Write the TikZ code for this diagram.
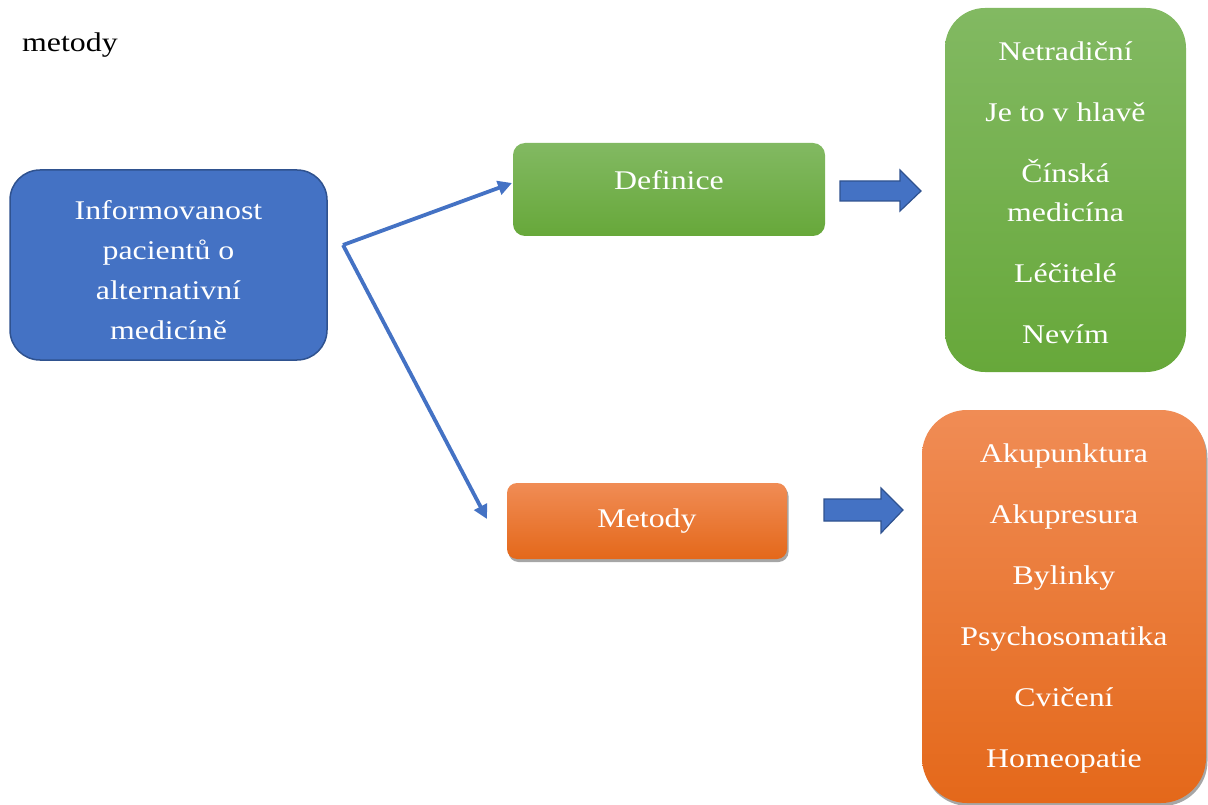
\documentclass[tikz,border=0pt]{standalone}
\usepackage{fontspec}
\setmainfont{Liberation Serif}[FakeStretch=1.18]
\usetikzlibrary{arrows.meta,shadows}
\definecolor{cblue}{HTML}{4472C4}
\definecolor{cbluedark}{HTML}{2F528F}
\definecolor{gtop}{HTML}{82B962}
\definecolor{gbot}{HTML}{67A83A}
\definecolor{otop}{HTML}{F08C55}
\definecolor{obot}{HTML}{E4681A}
\tikzset{
  box/.style={rounded corners=#1, inner sep=0pt},
  greenbox/.style={box=#1, top color=gtop, bottom color=gbot, draw=none},
  orangebox/.style={box=#1, top color=otop, bottom color=obot, draw=none,
    drop shadow={shadow xshift=1.5pt, shadow yshift=-3pt, opacity=0.35, fill=black}},
  bluebox/.style={box=#1, fill=cblue, draw=cbluedark, line width=1.5pt},
  boxtext/.style={inner sep=0pt, align=center, text=white,
    font=\fontsize{27}{39}\selectfont},
  conn/.style={draw=cblue, line width=3.8pt, -{Triangle[length=14pt,width=14pt]}},
  blockarrow/.style={fill=cblue, draw=cbluedark, line width=1.2pt, line join=miter}
}
\begin{document}
\begin{tikzpicture}[x=1pt,y=-1pt]
\useasboundingbox (0,0) rectangle (1208,805);

\node[anchor=base west, inner sep=0pt, font=\fontsize{27}{39}\selectfont] (cap) at (22,52) {metody};

\node[bluebox=30pt, minimum width=317pt, minimum height=190pt] (info) at (168.5,265) {};
\node[boxtext, font=\fontsize{27}{40}\selectfont] (infotext) at ([yshift=-5pt]info.center)
  {Informovanost\\pacientů o\\alternativní\\medicíně};

\node[greenbox=12pt, minimum width=312pt, minimum height=93pt] (def) at (669,189.5) {};
\node[boxtext] (deftext) at ([yshift=9pt]def.center) {Definice};

\node[greenbox=40pt, minimum width=241pt, minimum height=364pt] (defl) at (1065.5,190) {};
\node[boxtext] (defltext) at ([yshift=-3pt]defl.center)
  {Netradiční\\[22pt]Je to v hlavě\\[22pt]Čínská\\medicína\\[22pt]Léčitelé\\[22pt]Nevím};

\node[orangebox=10pt, minimum width=280pt, minimum height=76pt] (met) at (647,521) {};
\node[boxtext] (mettext) at (met.center) {Metody};

\node[orangebox=45pt, minimum width=284pt, minimum height=393pt] (metl) at (1064,606.5) {};
\node[boxtext] (metltext) at ([yshift=-2pt]metl.center)
  {Akupunktura\\[22pt]Akupresura\\[22pt]Bylinky\\[22pt]Psychosomatika\\[22pt]Cvičení\\[22pt]Homeopatie};

\coordinate (split) at (343,245);
\coordinate (deftip) at (512,183);
\coordinate (mettip) at (487,519);
\draw[conn] (split) -- (deftip);
\draw[conn] (split) -- (mettip);

\draw[blockarrow] (840,181) -- (900,181) -- (900,170) -- (921,191) -- (900,211) -- (900,201) -- (840,201) -- cycle;
\draw[blockarrow] (824,499) -- (881,499) -- (881,488) -- (903,510) -- (881,533) -- (881,521) -- (824,521) -- cycle;
\end{tikzpicture}
\end{document}
